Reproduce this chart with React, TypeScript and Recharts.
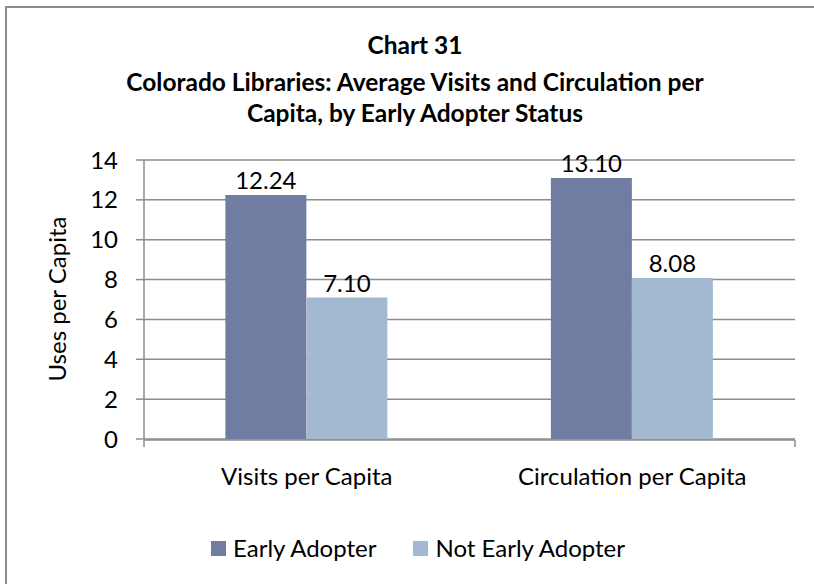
import React from 'react';
import { BarChart, Bar, XAxis, YAxis, CartesianGrid, Legend, LabelList } from 'recharts';

const categories = ['Visits per Capita', 'Circulation per Capita'];
const earlyAdopter = [12.24, 13.1];
const notEarlyAdopter = [7.1, 8.08];
const yTicks = [0, 2, 4, 6, 8, 10, 12, 14];
const edgeTicks = [0, 1, 2];
const titleLines = [
  'Chart 31',
  'Colorado Libraries: Average Visits and Circulation per',
  'Capita, by Early Adopter Status',
];

const data = categories.map((name, i) => ({
  name,
  early: earlyAdopter[i],
  notEarly: notEarlyAdopter[i],
}));

const FONT = 'Lato, "Open Sans", sans-serif';
const GRID = '#8c8c8c';
const DARK = '#717ca2';
const LIGHT = '#a3b9d0';
const FS = 24;

const series = [
  { key: 'early', name: 'Early Adopter', color: DARK },
  { key: 'notEarly', name: 'Not Early Adopter', color: LIGHT },
];

function LegendBox() {
  return (
    <div style={{ display: 'flex', justifyContent: 'center', gap: 37, fontFamily: FONT, fontSize: FS, lineHeight: '28px', color: '#000', paddingLeft: 22 }}>
      {series.map((s) => (
        <div key={s.key} style={{ display: 'flex', alignItems: 'center' }}>
          <span style={{ width: 15, height: 15, background: s.color, marginRight: 7, display: 'inline-block' }} />
          <span>{s.name}</span>
        </div>
      ))}
    </div>
  );
}

const titleY = [45, 82, 113];

export default function App() {
  return (
    <div style={{ position: 'absolute', left: 0, top: 0, width: 814, height: 584, overflow: 'hidden', background: '#fff', fontFamily: FONT }}>
      <style>{'html,body{margin:0;overflow:hidden}'}</style>
      <svg width={814} height={584} style={{ position: 'absolute', left: 0, top: 0 }}>
        <path d="M6 584 V7 H814" fill="none" stroke="#8a8a8a" strokeWidth={2} />
      </svg>
      {titleLines.map((t, i) => (
        <div
          key={i}
          style={{
            position: 'absolute', left: 0, width: 830, top: titleY[i] - 16, height: 32, lineHeight: '32px',
            textAlign: 'center', fontWeight: 700, fontSize: 24.5, color: '#000',
          }}
        >
          {t}
        </div>
      ))}
      <div
        style={{
          position: 'absolute', left: 57 - 100, top: 299 - 16, width: 200, height: 32, lineHeight: '32px',
          textAlign: 'center', fontSize: FS, color: '#000', transform: 'rotate(-90deg)',
        }}
      >
        Uses per Capita
      </div>
      <div style={{ position: 'absolute', left: 0, top: 0 }}>
        <BarChart
          width={814}
          height={584}
          data={data}
          margin={{ top: 160, right: 19, bottom: 143, left: 0 }}
          barCategoryGap="25%"
          barGap={0}
        >
          <CartesianGrid vertical={false} stroke={GRID} strokeWidth={1.5} />
          <XAxis
            xAxisId="edges"
            type="number"
            domain={[0, 2]}
            ticks={edgeTicks}
            height={1}
            axisLine={{ stroke: GRID, strokeWidth: 1.5 }}
            tickLine={{ stroke: GRID, strokeWidth: 1.5 }}
            tickSize={7}
            tick={() => <g />}
            allowDataOverflow
          />
          <XAxis
            dataKey="name"
            height={1}
            axisLine={false}
            tickLine={false}
            tickSize={0}
            tickMargin={29}
            tick={{ fill: '#000', fontSize: FS, fontFamily: FONT }}
          />
          <YAxis
            width={144}
            domain={[0, 14]}
            ticks={yTicks}
            interval={0}
            axisLine={{ stroke: GRID, strokeWidth: 1.5 }}
            tickLine={{ stroke: GRID, strokeWidth: 1.5 }}
            tickSize={8}
            tickMargin={18}
            tick={{ fill: '#000', fontSize: FS, fontFamily: FONT }}
          />
          <Legend
            layout="horizontal"
            verticalAlign="middle"
            align="center"
            wrapperStyle={{ top: 534, left: 0, width: 814 }}
            content={() => <LegendBox />}
          />
          {series.map((s) => (
            <Bar key={s.key} dataKey={s.key} name={s.name} fill={s.color} isAnimationActive={false}>
              <LabelList
                dataKey={s.key}
                position="top"
                offset={6}
                fill="#000"
                fontSize={FS}
                fontFamily={FONT}
                formatter={(v: number) => v.toFixed(2)}
              />
            </Bar>
          ))}
        </BarChart>
      </div>
    </div>
  );
}
